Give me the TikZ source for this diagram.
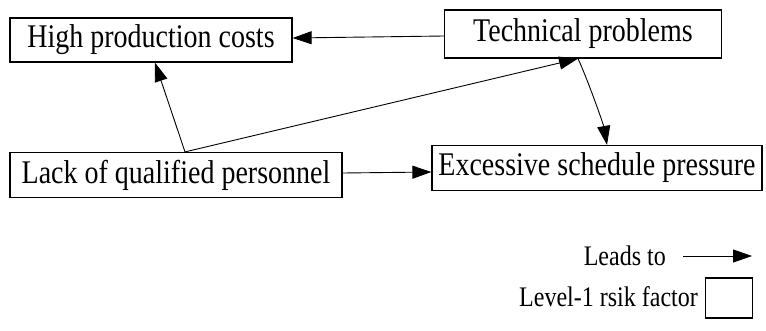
\documentclass[tikz,border=0pt]{standalone}
\usepackage{fontspec}
\setmainfont{Liberation Serif}
\usetikzlibrary{arrows.meta}
\newcommand{\tallText}[1]{\scalebox{1}[1.18]{#1}}
\begin{document}
\begin{tikzpicture}[x=1pt,y=-1pt,
  factor/.style={draw,line width=1.2pt,inner sep=0pt,font=\fontsize{28}{30}\selectfont},
  lead/.style={line width=0.9pt,-{Triangle[length=19pt,width=13pt]}},
  lbl/.style={inner sep=0pt,font=\fontsize{24}{28}\selectfont}]
\useasboundingbox (0,0) rectangle (766,330);
% risk factors
\node[factor,minimum width=282pt,minimum height=44pt] (hpc) at (151,40) {\tallText{High production costs}};
\node[factor,minimum width=277pt,minimum height=48pt] (tp) at (583,34) {\tallText{Technical problems}};
\node[factor,minimum width=332pt,minimum height=45pt] (lack) at (176,175) {\tallText{Lack of qualified personnel}};
\node[factor,minimum width=330pt,minimum height=45pt] (esp) at (597,168) {\tallText{Excessive schedule pressure}};
% causal links
\draw[lead] ([yshift=-2pt]tp.west) -- ([yshift=2pt]hpc.east);
\draw[lead] ([xshift=9pt]lack.north) -- ([xshift=4pt]hpc.south);
\draw[lead] ([xshift=9pt]lack.north) -- ([xshift=-5pt]tp.south);
\draw[lead] ([xshift=-5pt]tp.south) to[out=-65,in=100,looseness=0.6] ([xshift=10pt]esp.north);
\draw[lead] ([yshift=2pt]lack.east) -- ([yshift=-4pt]esp.west);
% legend
\node[lbl,anchor=east] (leadlbl) at (666,256) {\tallText{Leads to}};
\coordinate (la) at (683,256);
\coordinate (lb) at (752,256);
\draw[lead] (la) -- (lb);
\node[lbl,anchor=east] (faclbl) at (698,297) {\tallText{Level-1 rsik factor}};
\node[draw,line width=1.2pt,minimum width=47pt,minimum height=40pt] (facbox) at (729,298) {};
\end{tikzpicture}
\end{document}
